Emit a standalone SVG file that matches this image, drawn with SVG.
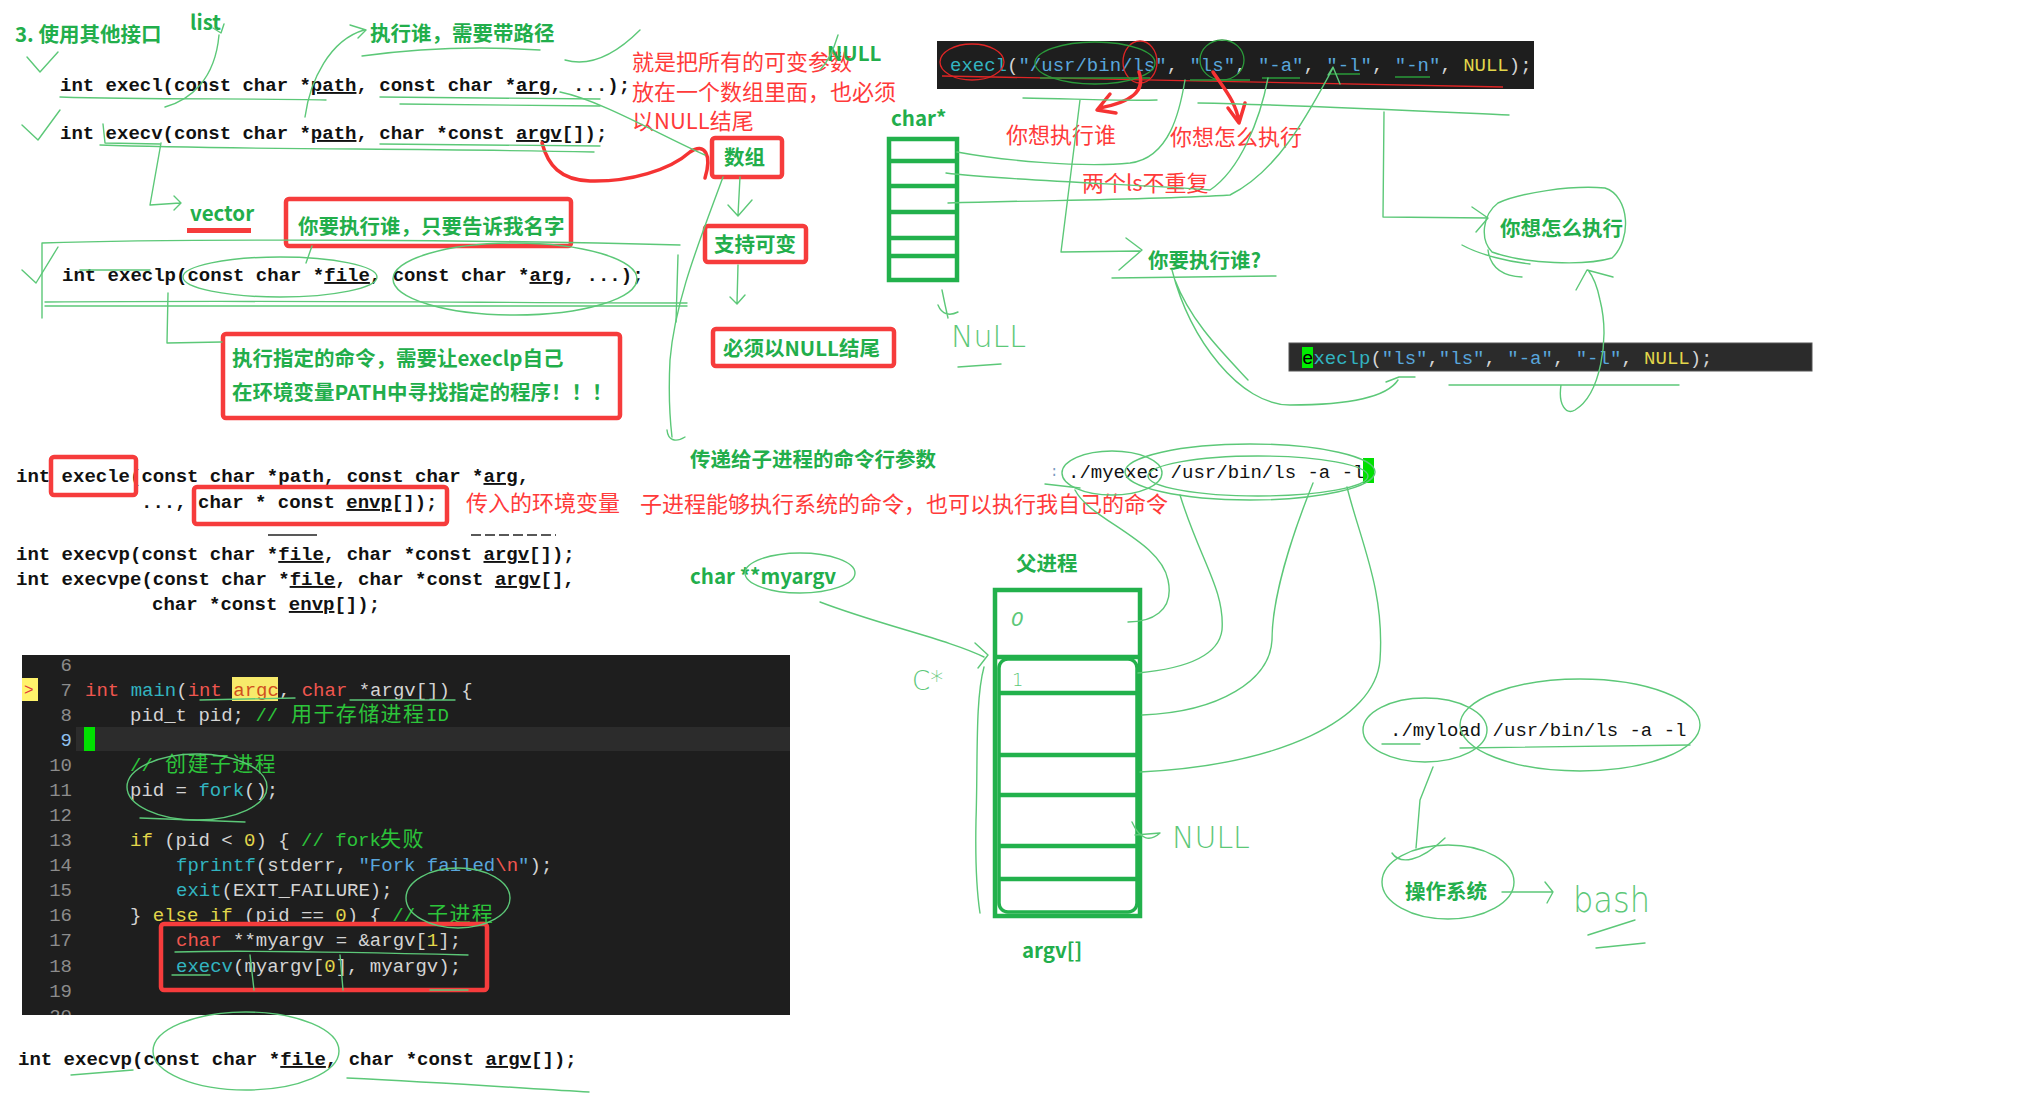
<svg xmlns="http://www.w3.org/2000/svg" width="2021" height="1102" viewBox="0 0 2021 1102" xml:space="preserve">
<style>
.code{font-family:"Liberation Mono","DejaVu Sans Mono",monospace;font-size:19px;font-weight:bold;fill:#111}
.mono{font-family:"Liberation Mono","DejaVu Sans Mono",monospace;font-size:19px;fill:#111}
.ed{font-family:"Liberation Mono","DejaVu Sans Mono",monospace;font-size:19px;fill:#d4d4d4}
.ln{font-family:"Liberation Mono","DejaVu Sans Mono",monospace;font-size:19px;fill:#8c8c8c;text-anchor:end}
.cj{font-family:"Noto Sans CJK SC",sans-serif;font-size:21px;letter-spacing:1.4px}
.g{font-family:"Noto Sans CJK SC","Noto Sans",sans-serif;font-weight:bold;font-size:20.5px;fill:#22ae4b}
.r{font-family:"Noto Sans CJK SC","Noto Sans",sans-serif;font-size:22px;fill:#ff3a3a}
.rb{fill:none;stroke:#f63c3c;stroke-width:4.5}
.gb{fill:none;stroke:#22b14c;stroke-width:4.5}
.h{fill:none;stroke:#5cc878;stroke-width:1.4;stroke-linecap:round;stroke-linejoin:round}
.hd{fill:none;stroke:#2a9a3a;stroke-width:1.3}
.hr{fill:none;stroke:#e02525;stroke-width:1.3}
.ra{fill:none;stroke:#f53333;stroke-width:3.5;stroke-linecap:round;stroke-linejoin:round}
.hw{font-family:"DejaVu Sans",sans-serif;font-weight:200;fill:#5cc878}
.kw{fill:#f0564f}.fn{fill:#32b4c0}.yl{fill:#e2d64a}.st{fill:#59a6dc}.cm{fill:#2cc43a}
</style>
<defs>
<clipPath id="panelClip"><rect x="22" y="655" width="768" height="360"/></clipPath>
</defs>
<rect width="2021" height="1102" fill="#ffffff"/>

<g id="title"><text class="g" x="15" y="42">3. 使用其他接口</text></g>
<g id="list-label"><text class="g" x="190" y="30">list</text></g>
<g id="who-path-label"><text class="g" x="370" y="41">执行谁，需要带路径</text></g>

<g id="decl-execl"><text class="code" x="60" y="91">int execl(const char *<tspan text-decoration="underline">path</tspan>, const char *<tspan text-decoration="underline">arg</tspan>, ...);</text></g>
<g id="decl-execv"><text class="code" x="60" y="139">int execv(const char *<tspan text-decoration="underline">path</tspan>, char *const <tspan text-decoration="underline">argv</tspan>[]);</text></g>
<g id="vector-label"><text class="g" x="190" y="221">vector</text><rect x="187" y="228" width="64" height="5" fill="#f63c3c"/></g>
<g id="name-only-box"><rect class="rb" x="286" y="199" width="285" height="47" rx="3"/><text class="g" x="298" y="234">你要执行谁，只要告诉我名字</text></g>
<g id="decl-execlp"><text class="code" x="62" y="281">int execlp(const char *<tspan text-decoration="underline">file</tspan>, const char *<tspan text-decoration="underline">arg</tspan>, ...);</text></g>
<g id="path-box"><rect class="rb" x="223" y="334" width="397" height="84" rx="3"/><text class="g" x="232" y="366">执行指定的命令，需要让execlp自己</text><text class="g" x="232" y="400">在环境变量PATH中寻找指定的程序！！！</text></g>

<g id="decl-execle"><text class="code" x="16" y="482">int execle(const char *path, const char *<tspan text-decoration="underline">arg</tspan>,</text><text class="code" x="141" y="508">..., char * const <tspan text-decoration="underline">envp</tspan>[]);</text><rect class="rb" x="51" y="457" width="85" height="38" rx="3"/><rect class="rb" x="194" y="487" width="253" height="37" rx="3"/></g>
<g id="env-label"><text class="r" x="466" y="511">传入的环境变量</text></g>
<g id="child-label"><text class="r" x="640" y="512">子进程能够执行系统的命令，也可以执行我自己的命令</text></g>
<g id="decl-execvp"><line x1="268" y1="535" x2="317" y2="535" stroke="#222" stroke-width="1.5"/><line x1="471" y1="535" x2="556" y2="535" stroke="#222" stroke-width="1.5" stroke-dasharray="10 4"/><text class="code" x="16" y="560">int execvp(const char *<tspan text-decoration="underline">file</tspan>, char *const <tspan text-decoration="underline">argv</tspan>[]);</text></g>
<g id="decl-execvpe"><text class="code" x="16" y="585">int execvpe(const char *<tspan text-decoration="underline">file</tspan>, char *const <tspan text-decoration="underline">argv</tspan>[],</text><text class="code" x="152" y="610">char *const <tspan text-decoration="underline">envp</tspan>[]);</text></g>

<g id="code-panel">
<rect x="22" y="655" width="768" height="360" fill="#1e1e1e"/>
<g clip-path="url(#panelClip)">
<rect x="76" y="727" width="714" height="24" fill="#2c2c2c"/>
<rect x="84" y="727" width="11" height="24" fill="#00e000"/>
<rect x="22" y="678" width="16" height="23" fill="#fff36b"/>
<text x="24" y="695" font-family="Liberation Mono,monospace" font-size="16" fill="#e03a3a">&gt;</text>
<text class="ln" x="72" y="671">6</text><text class="ln" x="72" y="696">7</text><text class="ln" x="72" y="721">8</text><text class="ln" x="72" y="746" style="fill:#8fc0ee">9</text><text class="ln" x="72" y="771">10</text><text class="ln" x="72" y="796">11</text><text class="ln" x="72" y="821">12</text><text class="ln" x="72" y="846">13</text><text class="ln" x="72" y="871">14</text><text class="ln" x="72" y="896">15</text><text class="ln" x="72" y="921">16</text><text class="ln" x="72" y="946">17</text><text class="ln" x="72" y="972">18</text><text class="ln" x="72" y="997">19</text><text class="ln" x="72" y="1022">20</text>
<rect x="232" y="677" width="46" height="24" fill="#f7ea6b"/>
<text class="ed" x="85" y="696"><tspan class="kw">int</tspan> <tspan class="fn">main</tspan>(<tspan class="kw">int</tspan> <tspan style="fill:#d0501e">argc</tspan>, <tspan class="kw">char</tspan> *argv[]) {</text>
<text class="ed" x="130" y="721">pid_t pid; <tspan class="cm">//</tspan></text><text class="cj cm" x="291" y="721">用于存储进程</text><text class="ed cm" x="426" y="721">ID</text>
<text class="ed cm" x="130" y="771">//</text><text class="cj cm" x="165" y="771">创建子进程</text>
<text class="ed" x="130" y="796">pid = <tspan class="fn">fork</tspan>();</text>
<text class="ed" x="130" y="846"><tspan class="yl">if</tspan> (pid &lt; <tspan class="yl">0</tspan>) { <tspan class="cm">// fork</tspan></text><text class="cj cm" x="380" y="846">失败</text>
<text class="ed" x="176" y="871"><tspan class="fn">fprintf</tspan>(stderr, <tspan class="st">"Fork failed</tspan><tspan class="kw">\n</tspan><tspan class="st">"</tspan>);</text>
<text class="ed" x="176" y="896"><tspan class="fn">exit</tspan>(EXIT_FAILURE);</text>
<text class="ed" x="130" y="921">} <tspan class="yl">else if</tspan> (pid == <tspan class="yl">0</tspan>) { <tspan class="cm">//</tspan></text><text class="cj cm" x="427" y="921">子进程</text>
<text class="ed" x="176" y="946"><tspan class="kw">char</tspan> **myargv = &amp;argv[<tspan class="yl">1</tspan>];</text>
<text class="ed" x="176" y="972"><tspan class="fn">execv</tspan>(myargv[<tspan class="yl">0</tspan>], myargv);</text>
</g>
<rect class="rb" x="161" y="924" width="326" height="66" rx="3"/>
</g>

<g id="decl-execvp-2"><text class="code" x="18" y="1065">int execvp(const char *<tspan text-decoration="underline">file</tspan>, char *const <tspan text-decoration="underline">argv</tspan>[]);</text></g>

<g id="array-note"><text class="r" x="632" y="70">就是把所有的可变参数</text><text class="r" x="632" y="100">放在一个数组里面，也必须</text><text class="r" x="632" y="129">以NULL结尾</text></g>
<g id="null-label"><text class="g" x="827" y="61">NULL</text></g>
<g id="array-box"><rect class="rb" x="712" y="138" width="70" height="39" rx="3"/><text class="g" x="724" y="165">数组</text></g>
<g id="variadic-box"><rect class="rb" x="705" y="226" width="101" height="36" rx="3"/><text class="g" x="714" y="252">支持可变</text></g>
<g id="null-end-box"><rect class="rb" x="713" y="329" width="181" height="37" rx="3"/><text class="g" x="723" y="356">必须以NULL结尾</text></g>
<g id="pass-args-label"><text class="g" x="690" y="467">传递给子进程的命令行参数</text></g>

<g id="charptr-array"><text class="g" x="891" y="126">char*</text><rect class="gb" x="889" y="139" width="68" height="141"/><line class="gb" x1="889" y1="161" x2="957" y2="161"/><line class="gb" x1="889" y1="186" x2="957" y2="186"/><line class="gb" x1="889" y1="212" x2="957" y2="212"/><line class="gb" x1="889" y1="238" x2="957" y2="238"/><line class="gb" x1="889" y1="256" x2="957" y2="256"/></g>

<g id="execl-bar"><rect x="937" y="41" width="597" height="48" fill="#1e1e1e"/><text class="ed" x="950" y="71"><tspan class="fn">execl</tspan>(<tspan class="st">"/usr/bin/ls"</tspan>, <tspan class="st">"ls"</tspan>, <tspan class="st">"-a"</tspan>, <tspan class="st">"-l"</tspan>, <tspan class="st">"-n"</tspan>, <tspan class="yl">NULL</tspan>);</text>
<ellipse class="hr" cx="972" cy="62" rx="32" ry="18"/><ellipse class="hr" cx="1140" cy="62" rx="17" ry="21"/><path class="hr" d="M942,76 C1100,80 1300,84 1503,87"/>
<ellipse class="hd" cx="1095" cy="63" rx="60" ry="21"/><ellipse class="hd" cx="1222" cy="60" rx="22" ry="20"/>
<path class="hd" d="M1040,78 L1150,78 M1190,80 L1250,80 M1262,78 L1300,78 M1330,74 L1360,74 M1395,77 L1430,77"/></g>
<g id="who-label"><text class="r" x="1006" y="143">你想执行谁</text></g>
<g id="how-label"><text class="r" x="1170" y="145">你想怎么执行</text></g>
<g id="no-dup-label"><text class="r" x="1082" y="191">两个ls不重复</text></g>
<g id="who-q-label"><text class="g" x="1148" y="268">你要执行谁?</text></g>
<g id="how-circle-label"><text class="g" x="1500" y="236">你想怎么执行</text></g>

<g id="execlp-bar"><rect x="1289" y="343" width="523" height="28" fill="#2b2b2b" stroke="#555" stroke-width="1"/><rect x="1302" y="347" width="11" height="21" fill="#00ee00"/><text class="ed" x="1302" y="364"><tspan style="fill:#000">e</tspan><tspan class="fn">xeclp</tspan>(<tspan class="st">"ls"</tspan>,<tspan class="st">"ls"</tspan>, <tspan class="st">"-a"</tspan>, <tspan class="st">"-l"</tspan>, <tspan class="yl">NULL</tspan>);</text></g>

<g id="myexec-cmd"><text x="1050" y="476" font-family="Liberation Mono,monospace" font-size="14" fill="#7a9ac0">:</text><text class="mono" x="1068" y="478">./myexec /usr/bin/ls -a -l</text><rect x="1363" y="458" width="11" height="25" fill="#00e000"/></g>
<g id="myargv-label"><text class="g" x="690" y="584">char **myargv</text></g>
<g id="parent-label"><text class="g" x="1016" y="571">父进程</text></g>
<g id="argv-array"><rect class="gb" x="995" y="590" width="145" height="326"/><line class="gb" x1="995" y1="657" x2="1140" y2="657"/><line class="gb" x1="999" y1="693" x2="1137" y2="693"/><line class="gb" x1="999" y1="755" x2="1137" y2="755"/><line class="gb" x1="999" y1="795" x2="1137" y2="795"/><line class="gb" x1="999" y1="846" x2="1137" y2="846"/><line class="gb" x1="999" y1="879" x2="1137" y2="879"/><rect x="999" y="659" width="138" height="253" rx="9" fill="none" stroke="#22b14c" stroke-width="3.5"/>
<text class="hw" x="1011" y="626" font-size="20" font-style="italic">0</text><text class="hw" x="1012" y="686" font-size="18">1</text></g>
<g id="argv-label"><text class="g" x="1022" y="958">argv[]</text></g>
<g id="myload-cmd"><text class="mono" x="1390" y="736">./myload /usr/bin/ls -a -l</text></g>
<g id="os-label"><text class="g" x="1405" y="899">操作系统</text></g>
<g id="hand-notes"><text class="hw" x="951" y="347" font-size="30">NuLL</text><text class="hw" x="1172" y="848" font-size="30">NULL</text><text class="hw" x="1573" y="912" font-size="36" textLength="77" lengthAdjust="spacingAndGlyphs">bash</text><text class="hw" x="912" y="690" font-size="26">C*</text></g>

<g id="connectors">
<path class="ra" d="M542,143 C548,165 560,180 590,181 C630,182 670,170 690,152 C705,142 712,155 705,178"/>
<path class="ra" d="M1139,72 C1146,92 1130,102 1100,108 M1110,94 L1097,110 L1116,113"/>
<path class="ra" d="M1213,72 C1225,90 1236,102 1239,122 M1228,108 L1239,123 L1245,103"/>
<path class="h" d="M27,57 L40,72 L58,52 M22,125 L38,140 L60,110 M22,270 L36,283 L58,247"/>
<path class="h" d="M165,107 C190,100 215,80 219,35 M213,28 L221,33 L224,24"/>
<path class="h" d="M305,117 C310,80 330,40 364,30 M350,25 L366,30 L358,38 M362,56 C420,48 480,46 540,50"/>
<path class="h" d="M60,97 C150,100 250,98 326,100 M380,97 L600,99 M400,104 L600,106 M100,145 C250,150 400,148 594,152 M380,144 L600,146 M103,124 L105,143 L160,144"/>
<path class="h" d="M161,143 L150,205 L180,203 M174,196 L181,203 L174,210"/>
<path class="h" d="M42,243 L42,318 M42,243 C200,238 500,240 680,245 M45,302 C300,300 500,303 687,303 M45,306 L687,306 M678,255 L676,322"/>
<path class="h" d="M168,293 L167,343 L222,342 M312,246 L306,263 M80,270 L150,270"/>
<ellipse class="h" cx="280" cy="277" rx="97" ry="20"/><ellipse class="h" cx="515" cy="279" rx="122" ry="36"/>
<path class="h" d="M560,92 C600,100 660,135 705,155 M565,60 C600,70 630,40 640,30 M820,70 C830,60 835,45 838,35"/>
<path class="h" d="M740,177 L738,215 M728,205 L738,216 L752,200 M738,265 L737,303 M730,297 L737,304 L745,295"/>
<path class="h" d="M723,177 C700,240 675,300 670,360 C668,400 670,420 672,437 M667,430 C668,440 675,443 685,437"/>
<path class="h" d="M957,152 C1000,160 1080,168 1130,163 C1170,158 1180,110 1185,80"/>
<path class="h" d="M946,173 C1000,180 1150,185 1210,190 C1240,170 1260,120 1268,78"/>
<path class="h" d="M948,203 C1050,200 1150,200 1230,195 C1280,170 1310,110 1333,68 M1328,75 L1333,67 L1340,84"/>
<path class="h" d="M942,290 C944,300 945,305 948,318 M938,305 C942,315 950,316 958,312 M958,367 L1001,364"/>
<path class="h" d="M1023,98 C1080,99 1120,101 1157,100 M1080,100 L1061,252 L1140,251 M1126,238 L1142,250 L1119,270"/>
<path class="h" d="M1198,103 C1300,105 1400,110 1509,115 M1384,112 L1383,217 L1488,218 M1472,207 L1488,218 L1476,232"/>
<path class="h" d="M1498,203 C1520,193 1570,185 1605,188 C1630,196 1632,240 1612,258 C1585,266 1525,264 1492,252 C1480,240 1482,215 1498,203 M1462,245 C1480,255 1510,262 1530,264 M1488,250 C1490,265 1500,276 1522,277"/>
<path class="h" d="M1112,278 L1276,276 M1172,270 C1190,340 1240,405 1290,405 C1340,405 1385,400 1398,380 M1386,382 L1399,377 L1415,377 M1175,280 C1190,320 1220,350 1248,380"/>
<path class="h" d="M1449,385 L1679,385 M1561,385 C1558,405 1566,415 1575,410 C1600,395 1610,340 1600,300 C1597,285 1592,275 1588,270 M1576,290 L1587,270 L1613,277"/>
<ellipse class="h" cx="1112" cy="473" rx="50" ry="22"/><ellipse class="h" cx="1250" cy="472" rx="125" ry="28"/><ellipse class="h" cx="1258" cy="476" rx="110" ry="20"/>
<path class="h" d="M1045,484 L1080,488 M1075,490 C1090,520 1160,540 1168,580 C1175,612 1150,622 1128,622"/>
<path class="h" d="M1180,495 C1200,560 1225,590 1222,630 C1218,662 1170,670 1138,673"/>
<path class="h" d="M1313,483 C1290,540 1272,600 1272,640 C1270,680 1220,712 1142,715"/>
<path class="h" d="M1347,487 C1360,540 1385,590 1380,660 C1375,720 1280,765 1140,772"/>
<ellipse class="h" cx="800" cy="573" rx="55" ry="20"/>
<path class="h" d="M820,602 C880,625 950,640 984,657 M975,643 L988,655 L978,668 M984,667 C975,700 978,760 976,820 C975,870 978,900 980,913"/>
<path class="h" d="M1132,822 C1140,840 1150,842 1160,833 M1135,835 L1160,833"/>
<ellipse class="h" cx="1425" cy="730" rx="62" ry="32"/><ellipse class="h" cx="1580" cy="725" rx="120" ry="46"/>
<path class="h" d="M1382,744 L1420,744 M1460,748 L1690,745 M1433,767 L1420,800 L1416,848 M1392,853 C1400,865 1420,862 1445,838"/>
<ellipse class="h" cx="1448" cy="882" rx="66" ry="37"/>
<path class="h" d="M1502,892 L1553,892 M1545,882 L1553,892 L1547,903 M1588,935 L1635,920 M1596,948 L1645,943"/>
<ellipse class="h" cx="197" cy="787" rx="70" ry="33"/><path class="h" d="M140,818 L245,822 M200,700 L295,698 M350,700 L455,700"/>
<ellipse class="h" cx="458" cy="898" rx="52" ry="30"/>
<path class="h" d="M175,952 C250,950 350,952 468,955 M172,975 L210,975 M250,955 L254,990 M340,955 L343,990 M430,990 L468,990"/>
<ellipse class="h" cx="246" cy="1051" rx="93" ry="39"/>
<path class="h" d="M71,1075 L133,1070 M347,1078 C450,1083 520,1088 589,1092"/>
</g>
</svg>
